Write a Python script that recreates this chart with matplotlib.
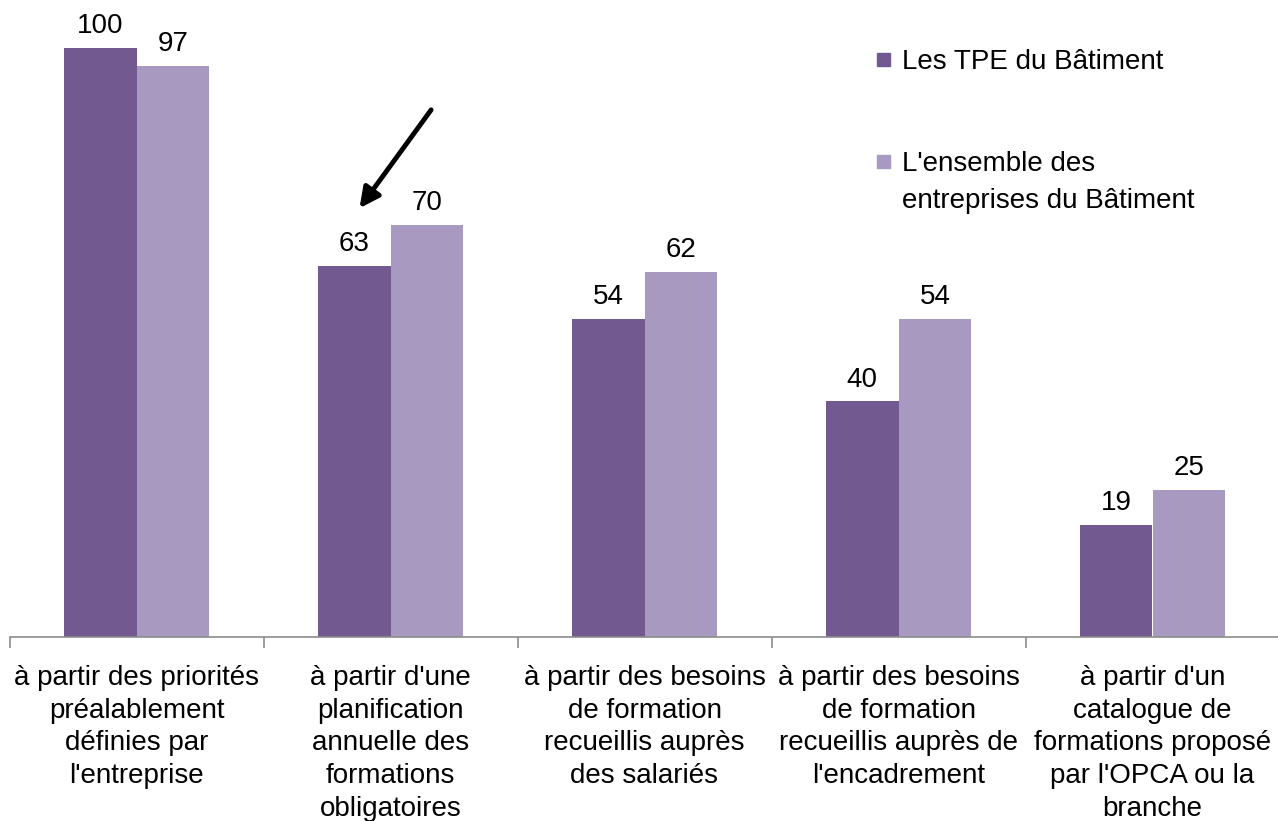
import matplotlib
matplotlib.use("Agg")
import matplotlib.pyplot as plt
from matplotlib.patches import Rectangle
import numpy as np

categories = [
    "à partir des priorités\npréalablement\ndéfinies par\nl'entreprise",
    "à partir d'une\nplanification\nannuelle des\nformations\nobligatoires",
    "à partir des besoins\nde formation\nrecueillis auprès\ndes salariés",
    "à partir des besoins\nde formation\nrecueillis auprès de\nl'encadrement",
    "à partir d'un\ncatalogue de\nformations proposé\npar l'OPCA ou la\nbranche",
]
series_names = ["Les TPE du Bâtiment", "L'ensemble des\nentreprises du Bâtiment"]
tpe = [100, 63, 54, 40, 19]
ensemble = [97, 70, 62, 54, 25]
colors = ["#725990", "#A899C0"]

plt.rcParams['font.family'] = ['Liberation Sans', 'DejaVu Sans']
FS = 20

W, H = 1278, 821
fig = plt.figure(figsize=(W / 100, H / 100), dpi=100)
ax_left = 9.5 / W
ax_right = 1279.5 / W
ax_bottom = (H - 637) / H
ymax = 105
ax_height = ymax * 5.89 / H
ax = fig.add_axes([ax_left, ax_bottom, ax_right - ax_left, ax_height])

x = np.arange(len(categories))
bw = 0.287
b1 = ax.bar(x - bw / 2, tpe, bw, color=colors[0], label=series_names[0])
b2 = ax.bar(x + bw / 2, ensemble, bw, color=colors[1], label=series_names[1])
for bars, vals in ((b1, tpe), (b2, ensemble)):
    for rect, v in zip(bars, vals):
        ax.text(rect.get_x() + rect.get_width() / 2, v + 1.5, str(v),
                ha='center', va='bottom', fontsize=FS, color='black')

ax.set_xlim(-0.5, len(categories) - 0.5)
ax.set_ylim(0, ymax)
ax.set_yticks([])
for s in ['top', 'right', 'left']:
    ax.spines[s].set_visible(False)
ax.spines['bottom'].set_color('#8C8C8C')
ax.spines['bottom'].set_linewidth(1.2)

ax.set_xticks(np.arange(-0.5, len(categories)), minor=False)
ax.set_xticklabels([])
ax.tick_params(axis='x', which='major', length=8, color='#8C8C8C', width=1.2, direction='out')
ax.set_xticks(x, minor=True)
ax.set_xticklabels(categories, minor=True, fontsize=FS, linespacing=1.34, va='top')
ax.tick_params(axis='x', which='minor', length=0, pad=20)

ax.annotate("", xy=(0.878, 72.8), xytext=(1.16, 89.5),
            arrowprops=dict(arrowstyle='-|>', color='black', lw=3.5,
                            mutation_scale=30, shrinkA=0, shrinkB=0))

# Legend (manual, handle aligned with the first text line)
leg_first_line_y = [60, 162]
sq = 13
for name, col, yc in zip(series_names, colors, leg_first_line_y):
    fig.patches.append(Rectangle((877 / W, 1 - (yc + sq / 2) / H), sq / W, sq / H,
                                 transform=fig.transFigure, color=col))
    fig.text(902 / W, 1 - (yc - 11) / H, name, ha='left', va='top',
             fontsize=FS, linespacing=1.55)

fig.savefig("out.png", dpi=100)
